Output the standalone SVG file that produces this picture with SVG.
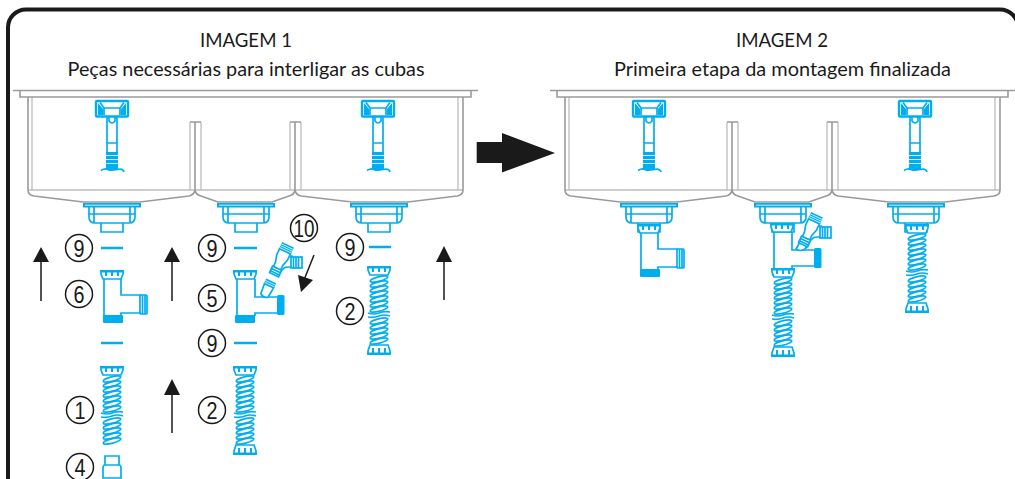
<svg xmlns="http://www.w3.org/2000/svg" width="1015" height="479" viewBox="0 0 1015 479">
<style>
.g{fill:none;stroke:#9a9a9a;stroke-width:1.6}
.gl{fill:none;stroke:#bdbdbd;stroke-width:1.3}
.b{fill:none;stroke:#00aeef;stroke-width:1.7}
.bw{fill:#fff;stroke:#00aeef;stroke-width:1.7}
.bf{fill:#00aeef;stroke:none}
.bt{fill:none;stroke:#00aeef;stroke-width:2.4}
.c{fill:#fff;stroke:#1a1a1a;stroke-width:1.5}
.n{font-family:"Liberation Sans",Arial,sans-serif;font-size:24px;fill:#1a1a1a;text-anchor:middle}
.t{font-family:Lato,"Open Sans",sans-serif;font-size:19px;fill:#1a1a1a;text-anchor:middle}
.l{fill:none;stroke:#1a1a1a;stroke-width:1.5}
.h{fill:#1a1a1a;stroke:none}
</style>
<defs>
<g id="bolt">
<rect x="-16" y="11" width="32" height="15.500" rx="1" class="bt"/>
<path class="b" d="M-12 12.500L-8 18V25M12 12.500L8 18V25M-8 18H8"/>
<path class="bf" d="M-14 13L-9 19V25H-14ZM14 13L9 19V25H14Z"/>
<path class="b" d="M-5 27V64M5 27V64M-3 27V31Q0 35 3 31V27M-5 53H5"/>
<rect x="-6" y="62" width="12" height="18" class="bf"/>
<path d="M-6 65.500H6M-6 69.500H6M-6 73.500H6" fill="none" stroke="#fff" stroke-width="0.8"/>
<path class="b" d="M-11 80.500Q-7 78 -4 79.500T5 79.500T12 82"/>
</g>
<g id="drain">
<rect x="-29" y="113" width="58" height="4.500" class="bf"/>
<path d="M-27 115.200H27" stroke="#fff" stroke-width="0.8"/>
<path class="b" d="M-23 117V127Q-23 133 -17 133H17Q23 133 23 127V117M-18 117V133M-23 124H23M18 117V133M-11 133V142H11V133"/>
</g>
<g id="sink">
<path class="gl" d="M19 7V100M15 100H450M445 7V100M177 100V32M188 32V100M277 100V32M288 32V100"/>
<path class="g" d="M0 0.500H465M7 0.500V7H458V0.500"/>
<path class="g" d="M15 7V100Q15 105 21 106L70 112H127L176 106Q181 105 182 100V32"/>
<path class="g" d="M177 32H188M182 100Q183 105 188 106L205 112H259L276 106Q281 105 282 100V32M277 32H288M282 100Q283 105 288 106L339 112H395L444 106Q450 105 450 100V7"/>
</g>
<g id="cap">
<path class="bw" d="M-11 1H11V4L9 9H-9L-11 4Z"/>
<rect x="-12" y="0" width="24" height="2.500" class="bf"/>
<path class="bf" d="M-7 2H-5V6H-7ZM-1 2H1V6H-1ZM5 2H7V6H5Z"/>
</g>
<g id="capb">
<path class="bw" d="M-9 0H9L11 6V9H-11V6Z"/>
<rect x="-12" y="7.500" width="24" height="2.500" class="bf"/>
<path class="bf" d="M-7 3H-5V8H-7ZM-1 3H1V8H-1ZM5 3H7V8H5Z"/>
</g>
<g id="coil">
<g class="b">
<ellipse cx="0" cy="13" rx="9" ry="2.200" transform="rotate(-14 0 13)"/>
<ellipse cx="0" cy="18" rx="9" ry="2.200" transform="rotate(-14 0 18)"/>
<ellipse cx="0" cy="23" rx="9" ry="2.200" transform="rotate(-14 0 23)"/>
<ellipse cx="0" cy="28" rx="9" ry="2.200" transform="rotate(-14 0 28)"/>
<ellipse cx="0" cy="33" rx="9" ry="2.200" transform="rotate(-14 0 33)"/>
<ellipse cx="0" cy="38" rx="9" ry="2.200" transform="rotate(-14 0 38)"/>
<ellipse cx="0" cy="43" rx="9" ry="2.200" transform="rotate(-14 0 43)"/>
<path d="M-11 47Q-5 49 0 47T11 46M-11 51Q-5 52 0 50T11 50"/>
<ellipse cx="0" cy="55" rx="9" ry="2.200" transform="rotate(-14 0 55)"/>
<ellipse cx="0" cy="60" rx="9" ry="2.200" transform="rotate(-14 0 60)"/>
<ellipse cx="0" cy="65" rx="9" ry="2.200" transform="rotate(-14 0 65)"/>
<ellipse cx="0" cy="70" rx="9" ry="2.200" transform="rotate(-14 0 70)"/>
<ellipse cx="0" cy="75" rx="9" ry="2.200" transform="rotate(-14 0 75)"/>
</g>
</g>
<g id="hose2"><use href="#coil"/><use href="#cap"/><use href="#capb" y="79"/></g>
<g id="hose1"><use href="#coil"/><use href="#cap"/></g>
<g id="t6">
<use href="#cap"/>
<path class="b" d="M-8 9V46M9 9V25H29M9 46V43H29"/>
<rect x="28" y="25" width="7" height="19" rx="1" class="b"/>
<path class="b" d="M30.500 25V44M33 25V44"/>
<rect x="-9" y="45" width="20" height="8" rx="1" class="bf"/>
</g>
<g id="t5base">
<use href="#cap"/>
<path class="b" d="M-8 9V46M10 9V27H32M10 46V43H32"/>
<rect x="32" y="25" width="7.500" height="20" rx="1.500" class="bf"/>
<rect x="-10" y="45" width="20" height="8" rx="1" class="bf"/>
</g>
<g id="stub">
<path class="bw" d="M-5 -5H5L4 6Q0 9 -4 6Z"/>
<rect x="-5.500" y="-10" width="11" height="6" class="bf"/>
<path d="M-5.500 -8H5.500M-5.500 -6H5.500" stroke="#fff" stroke-width="0.7"/>
</g>
<g id="y10">
<path class="bw" d="M2 -4L7 -6H10V5H6Q2 5 0 8"/>
<g transform="translate(-2 0) rotate(25)">
<path class="bw" d="M-6 -12H6V-5L4 2V7H-4V2L-6 -5Z"/>
<rect x="-6.500" y="-19" width="13" height="8" class="bf"/>
<path d="M-6.500 -17H6.500M-6.500 -15H6.500M-6.500 -13H6.500" stroke="#fff" stroke-width="0.7"/>
<rect x="-5" y="7" width="10" height="7" class="bw"/>
<path class="b" d="M-5 9.500H5M-5 12H5"/>
</g>
<rect x="9" y="-5" width="11" height="11" class="bw"/>
<path class="b" d="M11.500 -5V6M14 -5V6M16.500 -5V6"/>
</g>
<g id="p4">
<path class="b" d="M-7 0H7V9H-7ZM-9 12Q-9 9 -7 9H7Q9 9 9 12V22H-9Z"/>
</g>
</defs>

<rect id="frame" x="8" y="9.500" width="1010" height="500" rx="18" fill="#fff" stroke="#1a1a1a" stroke-width="4"/>

<g id="title-1">
<text class="t" x="246" y="47" textLength="92" lengthAdjust="spacingAndGlyphs">IMAGEM 1</text>
<text class="t" x="246" y="75.500" textLength="357" lengthAdjust="spacingAndGlyphs">Peças necessárias para interligar as cubas</text>
</g>
<g id="title-2">
<text class="t" x="782" y="47" textLength="92" lengthAdjust="spacingAndGlyphs">IMAGEM 2</text>
<text class="t" x="782.500" y="75.500" textLength="337" lengthAdjust="spacingAndGlyphs">Primeira etapa da montagem finalizada</text>
</g>

<g id="sink-1">
<use href="#sink" x="13" y="90"/>
<use href="#bolt" x="112" y="90"/><use href="#bolt" x="378" y="90"/>
<use href="#drain" x="112" y="90"/><use href="#drain" x="246" y="90"/><use href="#drain" x="379" y="90"/>
</g>
<g id="sink-2">
<use href="#sink" x="550" y="90"/>
<use href="#bolt" x="649" y="90"/><use href="#bolt" x="915" y="90"/>
<use href="#drain" x="649" y="90"/><use href="#drain" x="783" y="90"/><use href="#drain" x="916" y="90"/>
</g>

<g id="connectors">
<path class="l" d="M41 301V260M172 301V260M172 433V392M444 300V258M314 255L304 280"/>
<path class="h" d="M41 247L49 262H33ZM172 247L180 262H164ZM172 379L180 395H164ZM444 246L452 262H436ZM301 292L298 275L313 280Z"/>
<path id="big-arrow" class="h" d="M476.700 142H502V133L555 153L502 172.500V163H476.700Z"/>
</g>

<g id="dashes">
<path class="bt" d="M101 248H123M101 343H123M234 248H257M234 343H257M369 247H391"/>
</g>
<g id="part-6"><use href="#t6" x="112" y="270"/></g>
<g id="part-1"><use href="#hose1" x="112" y="366"/></g>
<g id="part-4"><use href="#p4" x="112" y="456"/></g>
<g id="part-5"><use href="#t5base" x="245" y="270"/><g transform="translate(267 290) rotate(25)"><use href="#stub"/></g></g>
<g id="part-10"><use href="#y10" x="282" y="262"/></g>
<g id="part-2a"><use href="#hose2" x="245" y="366"/></g>
<g id="part-2b"><use href="#hose2" x="379" y="266"/></g>
<g id="assembled-left"><use href="#t6" x="649" y="224"/></g>
<g id="assembled-mid"><use href="#t5base" x="782" y="223"/><path class="bw" d="M801 240L796 249Q800 252 805 249L809 243"/><use href="#y10" x="811" y="232"/><use href="#hose2" x="783" y="268"/></g>
<g id="assembled-right"><use href="#hose2" x="917" y="224"/></g>

<g id="labels">
<g><circle class="c" cx="79" cy="248" r="13.500"/><text class="n" x="79" y="256.500" textLength="11" lengthAdjust="spacingAndGlyphs">9</text></g>
<g><circle class="c" cx="212" cy="248" r="13.500"/><text class="n" x="212" y="256.500" textLength="11" lengthAdjust="spacingAndGlyphs">9</text></g>
<g><circle class="c" cx="304" cy="228" r="13.500"/><text class="n" x="304" y="236.500" textLength="21" lengthAdjust="spacingAndGlyphs">10</text></g>
<g><circle class="c" cx="350" cy="247" r="13.500"/><text class="n" x="350" y="255.500" textLength="11" lengthAdjust="spacingAndGlyphs">9</text></g>
<g><circle class="c" cx="79" cy="294" r="13.500"/><text class="n" x="79" y="302.500" textLength="11" lengthAdjust="spacingAndGlyphs">6</text></g>
<g><circle class="c" cx="212" cy="298" r="13.500"/><text class="n" x="212" y="306.500" textLength="11" lengthAdjust="spacingAndGlyphs">5</text></g>
<g><circle class="c" cx="212" cy="343" r="13.500"/><text class="n" x="212" y="351.500" textLength="11" lengthAdjust="spacingAndGlyphs">9</text></g>
<g><circle class="c" cx="212" cy="410" r="13.500"/><text class="n" x="212" y="418.500" textLength="11" lengthAdjust="spacingAndGlyphs">2</text></g>
<g><circle class="c" cx="80" cy="410" r="13.500"/><text class="n" x="80" y="418.500" textLength="11" lengthAdjust="spacingAndGlyphs">1</text></g>
<g><circle class="c" cx="80" cy="467" r="13.500"/><text class="n" x="80" y="475.500" textLength="11" lengthAdjust="spacingAndGlyphs">4</text></g>
<g><circle class="c" cx="350" cy="311" r="13.500"/><text class="n" x="350" y="319.500" textLength="11" lengthAdjust="spacingAndGlyphs">2</text></g>
</g>
</svg>
